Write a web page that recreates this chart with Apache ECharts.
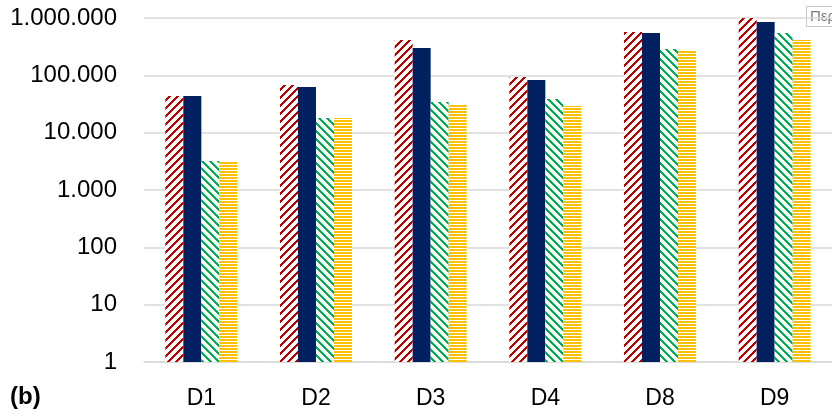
<!DOCTYPE html>
<html><head><meta charset="utf-8">
<script src="https://cdn.jsdelivr.net/npm/echarts@6/dist/echarts.min.js"></script>
<style>html,body{margin:0;padding:0;background:#fff}#c{width:832px;height:418px}</style>
</head><body><div id="c"></div>
<script>
const categories = ['D1','D2','D3','D4','D8','D9'];
const seriesA = [43500, 67700, 413000, 93300, 570000, 1000000];
const seriesB = [43500, 62500, 299000, 82700, 547000, 851000];
const seriesC = [3190, 18000, 34200, 38600, 288000, 547000];
const seriesD = [3130, 18000, 31600, 29100, 277000, 413000];

function pattern(color, test, w, h) {
  const c = document.createElement('canvas'); c.width = w; c.height = h;
  const ctx = c.getContext('2d');
  ctx.fillStyle = '#fff'; ctx.fillRect(0,0,w,h);
  ctx.fillStyle = color;
  for (let y=0;y<h;y++) for (let x=0;x<w;x++) if (test(x,y)) ctx.fillRect(x,y,1,1);
  return {image: c, repeat: 'repeat'};
}
const redPat = pattern('#c00000', (x,y)=>((x+y)%8)<3, 8, 8);
const greenPat = pattern('#00b050', (x,y)=>(((x-y)%8)+8)%8<3, 8, 8);
const yellowPat = pattern('#ffc000', (x,y)=>(y%3)<2, 3, 3);

function fmt(v){ return String(Math.round(v)).replace(/\B(?=(\d{3})+(?!\d))/g,'.'); }

const chart = echarts.init(document.getElementById('c'), null, {renderer:'canvas'});
const mk = (data, color) => ({type:'bar', data, barWidth:18, barGap:'0%', itemStyle:{color}, animation:false});
chart.setOption({
  animation:false,
  grid:{left:144, top:18, width:693, bottom:56},
  xAxis:{type:'category', data:categories,
    axisLine:{lineStyle:{color:'#d9d9d9', width:1.5}}, axisTick:{show:false},
    axisLabel:{fontFamily:'Liberation Sans', fontSize:23, color:'#000', margin:25}},
  yAxis:{type:'log', logBase:10, min:1, max:1000000,
    axisLine:{show:false}, axisTick:{show:false},
    splitLine:{lineStyle:{color:'#d9d9d9', width:1.5}},
    axisLabel:{fontFamily:'Liberation Sans', fontSize:24, color:'#000', margin:27, formatter:fmt}},
  series:[mk(seriesA, redPat), mk(seriesB, '#002060'), mk(seriesC, greenPat), mk(seriesD, yellowPat)],
  graphic:[
    {type:'text', left:10, top:385, style:{text:'(b)', font:'bold 24px "Liberation Sans"', fill:'#000'}},
    {type:'rect', shape:{x:806.5, y:6.5, width:40, height:20}, style:{fill:'#fff', stroke:'#c8c8c8', lineWidth:1}},
    {type:'text', x:810, y:9, style:{text:'Περ', font:'15px "Liberation Sans"', fill:'#7a7a7a'}}
  ]
});
</script></body></html>
